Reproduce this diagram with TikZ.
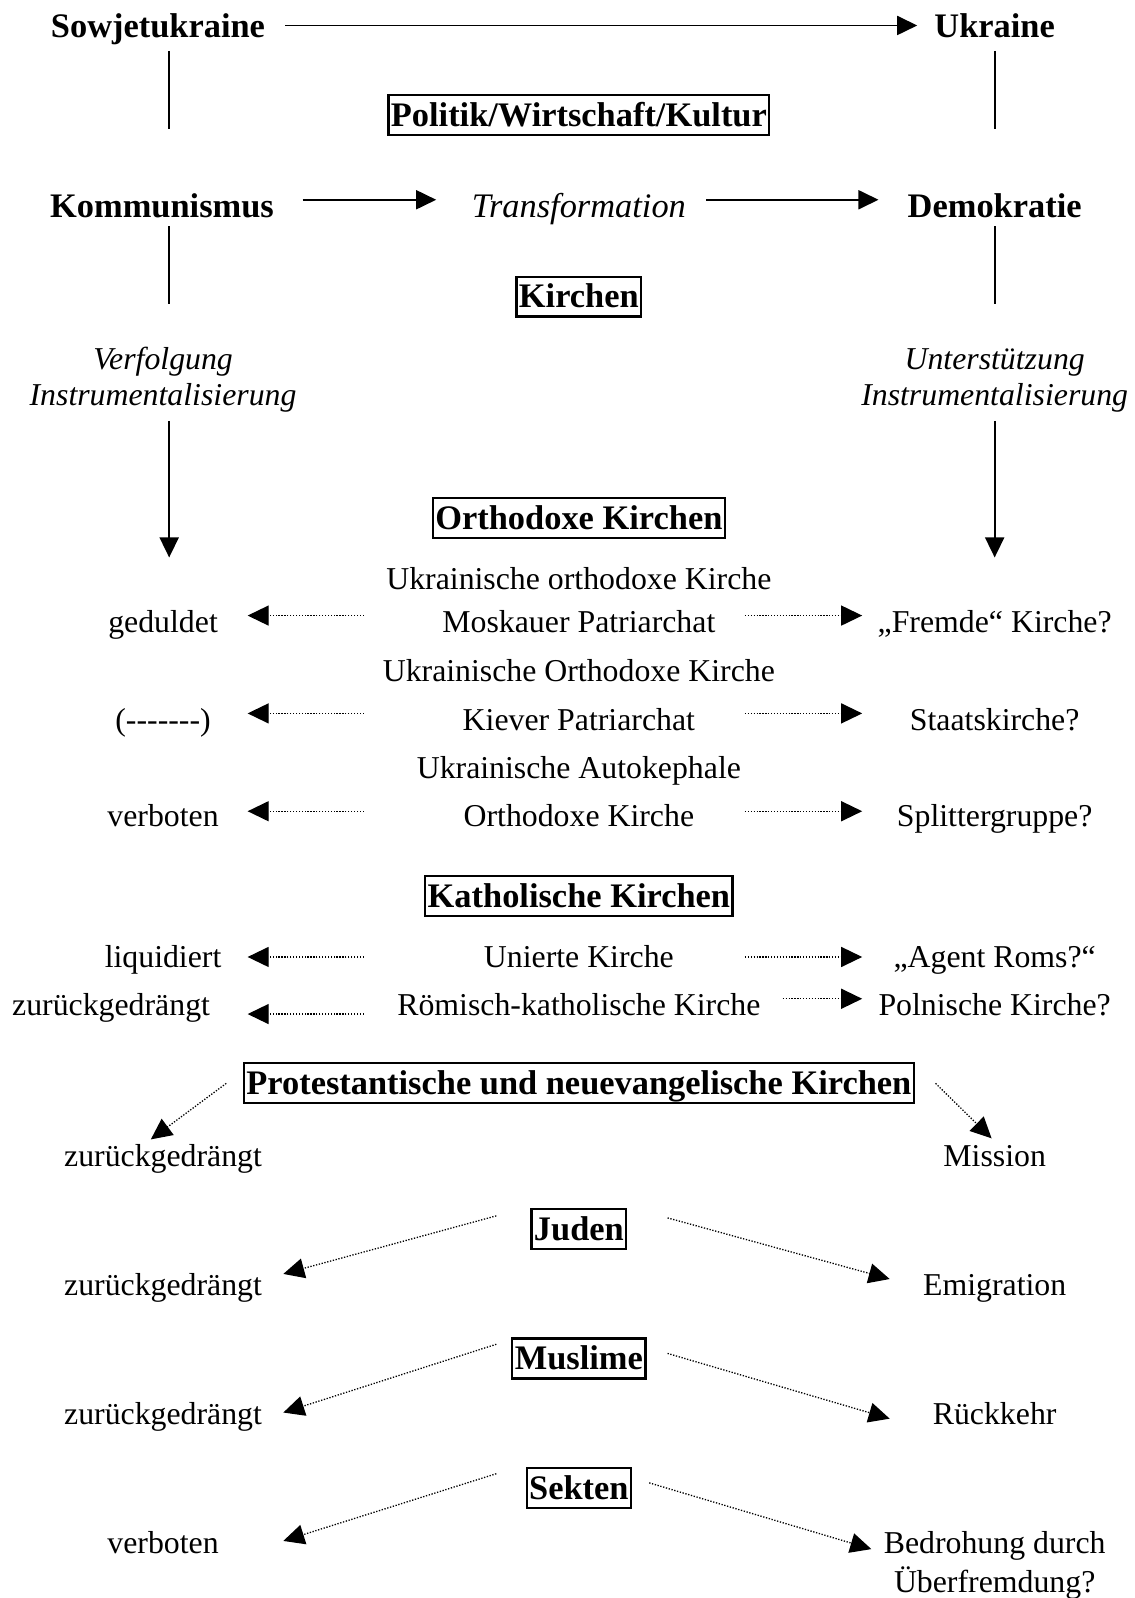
\documentclass[tikz,border=0pt]{standalone}
\usepackage{fontspec}
\setmainfont{Liberation Serif}
\usetikzlibrary{arrows.meta}
\newcommand\rgsize{\fontsize{31.8pt}{37pt}\selectfont}
\newcommand\bgsize{\fontsize{34.4pt}{40pt}\selectfont}
\tikzset{
    % Text styles
    lbl/.style={inner sep=0pt, text height=21pt, text depth=0pt, font=\rgsize},
    ilbl/.style={lbl, font=\rgsize\itshape},
    head/.style={inner sep=0pt, text height=22.7pt, text depth=0pt, font=\bgsize\bfseries},
    ihead/.style={head, font=\bgsize\itshape},
    framed/.style={draw, line width=2.2pt, inner xsep=2.5pt, inner ysep=8.6pt,
                   text height=22.7pt, text depth=0pt, font=\bgsize\bfseries},
    % Connector styles
    plain line/.style={line width=1.8pt},
    solid arrow/.style={-{Triangle[length=20pt,width=19pt]}, line width=1.8pt},
    dot arrow/.style={-{Triangle[length=21pt,width=20pt]}, line width=1.3pt,
                      dash pattern=on 1.3pt off 1.6pt},
}

\begin{document}
\begin{tikzpicture}[x=1.0189pt, y=-1.0189pt]
    \useasboundingbox (0,0) rectangle (1113,1568);

    % Frame: state and system
    \node[head] (sow) at (155,26) {Sowjetukraine};
    \node[head] (ukr) at (976,26) {Ukraine};
    \node[framed] (pol) at (568,113) {Politik/Wirtschaft/Kultur};
    \node[head] (kom) at (159,202) {Kommunismus};
    \node[ihead] (trans) at (568,202) {Transformation};
    \node[head] (demo) at (976,202) {Demokratie};
    \node[framed] (kir) at (568,291) {Kirchen};
    \node[ilbl] (verf) at (160,352) {Verfolgung};
    \node[ilbl] (instrL) at (160,388) {Instrumentalisierung};
    \node[ilbl] (unter) at (976,352) {Unterstützung};
    \node[ilbl] (instrR) at (976,388) {Instrumentalisierung};

    \draw[solid arrow] ([shift={(125,-1)}]sow.center) -- ([shift={(-76,-1)}]ukr.center);
    \draw[plain line] ([shift={(11,24)}]sow.center) -- ([shift={(7,-75)}]kom.center);
    \draw[plain line] ([shift={(0,24)}]ukr.center) -- ([shift={(0,-75)}]demo.center);
    \draw[solid arrow] ([shift={(138,-6)}]kom.center) -- ([shift={(-140,-6)}]trans.center);
    \draw[solid arrow] ([shift={(125,-6)}]trans.center) -- ([shift={(-114,-6)}]demo.center);
    \draw[plain line] ([shift={(7,20)}]kom.center) -- ([shift={(6,-54)}]verf.center);
    \draw[plain line] ([shift={(0,20)}]demo.center) -- ([shift={(0,-54)}]unter.center);

    % Orthodoxe Kirchen
    \node[framed] (ortho) at (568,508) {Orthodoxe Kirchen};
    \node[lbl] (mpA) at (568,568) {Ukrainische orthodoxe Kirche};
    \node[lbl] (mpB) at (568,610) {Moskauer Patriarchat};
    \node[lbl] (ged) at (160,610) {geduldet};
    \node[lbl] (fremd) at (976,610) {„Fremde“ Kirche?};
    \node[lbl] (kpA) at (568,658) {Ukrainische Orthodoxe Kirche};
    \node[lbl] (kpB) at (568,706) {Kiever Patriarchat};
    \node[lbl] (leer) at (160,706) {(-{}-{}-{}-{}-{}-{}-)};
    \node[lbl] (staat) at (976,706) {Staatskirche?};
    \node[lbl] (akA) at (568,754) {Ukrainische Autokephale};
    \node[lbl] (akB) at (568,801) {Orthodoxe Kirche};
    \node[lbl] (verbA) at (160,801) {verboten};
    \node[lbl] (split) at (976,801) {Splittergruppe?};

    \draw[solid arrow] ([shift={(6,25)}]instrL.center) -- ([shift={(6,-63)}]ged.center);
    \draw[solid arrow] ([shift={(0,25)}]instrR.center) -- ([shift={(0,-63)}]fremd.center);

    \draw[dot arrow] ([shift={(-211,-6)}]mpB.center) -- ([shift={(83,-6)}]ged.center);
    \draw[dot arrow] ([shift={(163,-6)}]mpB.center) -- ([shift={(-130,-6)}]fremd.center);
    \draw[dot arrow] ([shift={(-211,-6)}]kpB.center) -- ([shift={(83,-6)}]leer.center);
    \draw[dot arrow] ([shift={(163,-6)}]kpB.center) -- ([shift={(-130,-6)}]staat.center);
    \draw[dot arrow] ([shift={(-211,-5)}]akB.center) -- ([shift={(83,-5)}]verbA.center);
    \draw[dot arrow] ([shift={(163,-5)}]akB.center) -- ([shift={(-130,-5)}]split.center);

    % Katholische Kirchen
    \node[framed] (kath) at (568,879) {Katholische Kirchen};
    \node[lbl] (uni) at (568,939) {Unierte Kirche};
    \node[lbl] (liq) at (160,939) {liquidiert};
    \node[lbl] (agent) at (976,939) {„Agent Roms?“};
    \node[lbl] (rk) at (568,986) {Römisch-katholische Kirche};
    \node[lbl] (zurA) at (109,986) {zurückgedrängt};
    \node[lbl] (poln) at (976,986) {Polnische Kirche?};

    \draw[dot arrow] ([shift={(-211,0)}]uni.center) -- ([shift={(83,0)}]liq.center);
    \draw[dot arrow] ([shift={(163,0)}]uni.center) -- ([shift={(-130,0)}]agent.center);
    \draw[dot arrow] ([shift={(-211,9)}]rk.center) -- ([shift={(134,9)}]zurA.center);
    \draw[dot arrow] ([shift={(200,-6)}]rk.center) -- ([shift={(-130,-6)}]poln.center);

    % Protestanten, Juden, Muslime, Sekten
    \node[framed] (prot) at (568,1063) {Protestantische und neuevangelische Kirchen};
    \node[lbl] (zurB) at (160,1134) {zurückgedrängt};
    \node[lbl] (miss) at (976,1134) {Mission};
    \node[framed] (jud) at (568,1206) {Juden};
    \node[lbl] (zurC) at (160,1261) {zurückgedrängt};
    \node[lbl] (emig) at (976,1261) {Emigration};
    \node[framed] (mus) at (568,1333) {Muslime};
    \node[lbl] (zurD) at (160,1387) {zurückgedrängt};
    \node[lbl] (rueck) at (976,1387) {Rückkehr};
    \node[framed] (sek) at (568,1460) {Sekten};
    \node[lbl] (verbB) at (160,1514) {verboten};
    \node[lbl] (bedA) at (976,1514) {Bedrohung durch};
    \node[lbl] (bedB) at (976,1552) {Überfremdung?};

    \draw[dot arrow] ([shift={(-346,0)}]prot.center) -- ([shift={(-12,-16)}]zurB.center);
    \draw[dot arrow] ([shift={(350,0)}]prot.center) -- ([shift={(-3,-17)}]miss.center);
    \draw[dot arrow] ([shift={(-81,-13)}]jud.center) -- ([shift={(118,-11)}]zurC.center);
    \draw[dot arrow] ([shift={(87,-11)}]jud.center) -- ([shift={(-103,-6)}]emig.center);
    \draw[dot arrow] ([shift={(-81,-14)}]mus.center) -- ([shift={(118,-1)}]zurD.center);
    \draw[dot arrow] ([shift={(87,-5)}]mus.center) -- ([shift={(-103,5)}]rueck.center);
    \draw[dot arrow] ([shift={(-81,-14)}]sek.center) -- ([shift={(118,-2)}]verbB.center);
    \draw[dot arrow] ([shift={(69,-5)}]sek.center) -- ([shift={(-121,6)}]bedA.center);
\end{tikzpicture}
\end{document}
